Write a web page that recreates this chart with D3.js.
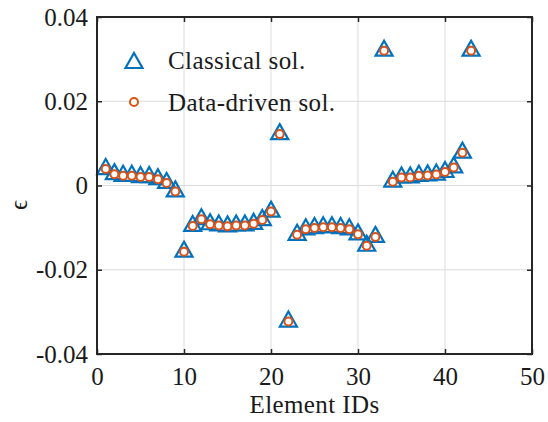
<!DOCTYPE html>
<html><head><meta charset="utf-8">
<script src="https://cdn.jsdelivr.net/npm/d3@7"></script>
</head><body style="margin:0;background:#fff">
<svg id="c" width="548" height="422"></svg>
<script>
const elementIds = d3.range(1, 44);
const classical = [0.0039,0.0027,0.0023,0.0023,0.0020,0.0020,0.0015,0.0006,-0.0014,-0.0157,
  -0.0096,-0.0080,-0.0092,-0.0095,-0.0097,-0.0095,-0.0095,-0.0091,-0.0082,-0.0062,
  0.0122,-0.0323,-0.0117,-0.0104,-0.0101,-0.0099,-0.0099,-0.0101,-0.0104,-0.0116,
  -0.0143,-0.0122,0.0320,0.0009,0.0019,0.0019,0.0023,0.0024,0.0026,0.0032,
  0.0043,0.0078,0.0320];
const dataDriven = [0.0039,0.0027,0.0023,0.0023,0.0020,0.0020,0.0015,0.0006,-0.0014,-0.0157,
  -0.0096,-0.0080,-0.0092,-0.0095,-0.0097,-0.0095,-0.0095,-0.0091,-0.0082,-0.0062,
  0.0122,-0.0323,-0.0117,-0.0104,-0.0101,-0.0099,-0.0099,-0.0101,-0.0104,-0.0116,
  -0.0143,-0.0122,0.0320,0.0009,0.0019,0.0019,0.0023,0.0024,0.0026,0.0032,
  0.0043,0.0078,0.0320];
const xTicks = [0,10,20,30,40,50];
const yTicks = [0.04,0.02,0,-0.02,-0.04];
const yTickLabels = ["0.04","0.02","0","-0.02","-0.04"];
const seriesNames = ["Classical sol.","Data-driven sol."];

const L=97, R=532, T=17, B=354;
const FONT = "Liberation Serif";
const fs = 25;
const svg = d3.select("#c");
const x = d3.scaleLinear().domain([0,50]).range([L,R]);
const y = d3.scaleLinear().domain([-0.04,0.04]).range([B,T]);
const blue="#0072BD", orange="#D95319";

function txt(sel){ return sel.attr("font-family",FONT).style("font-family",FONT)
  .attr("font-size",fs).style("font-size",fs+"px").attr("fill","#1a1a1a"); }

// grid
svg.append("g").selectAll("line").data(xTicks.slice(1,-1)).join("line")
  .attr("x1",d=>x(d)).attr("x2",d=>x(d)).attr("y1",T).attr("y2",B)
  .attr("stroke","#dcdcdc").attr("stroke-width",1);
svg.append("g").selectAll("line").data(yTicks.slice(1,-1)).join("line")
  .attr("y1",d=>y(d)).attr("y2",d=>y(d)).attr("x1",L).attr("x2",R)
  .attr("stroke","#dcdcdc").attr("stroke-width",1);

// axes (ticks inward)
const xa = svg.append("g").attr("transform",`translate(0,${B})`)
  .call(d3.axisBottom(x).tickValues(xTicks).tickSizeInner(-5).tickSizeOuter(0).tickPadding(13).tickFormat(d3.format("d")));
const xat = svg.append("g").attr("transform",`translate(0,${T})`)
  .call(d3.axisTop(x).tickValues(xTicks).tickSizeInner(-5).tickSizeOuter(0).tickFormat(""));
const ya = svg.append("g").attr("transform",`translate(${L},0)`)
  .call(d3.axisLeft(y).tickValues(yTicks).tickSizeInner(-5).tickSizeOuter(0).tickPadding(9).tickFormat((d,i)=>yTickLabels[i]));
const yar = svg.append("g").attr("transform",`translate(${R},0)`)
  .call(d3.axisRight(y).tickValues(yTicks).tickSizeInner(-5).tickSizeOuter(0).tickFormat(""));
[xa,xat,ya,yar].forEach(g=>{
  g.attr("font-family",FONT).attr("font-size",fs);
  g.select(".domain").remove();
  g.selectAll(".tick line").attr("stroke","#262626").attr("stroke-width",1.5);
  txt(g.selectAll(".tick text"));
});
xa.selectAll(".tick text").attr("dy","0.71em");

// markers
const triPath = "M0,-10L8.5,5L-8.5,5Z";
svg.append("g").selectAll("path").data(elementIds).join("path")
  .attr("d",triPath).attr("transform",(d,i)=>`translate(${x(d)},${y(classical[i])})`)
  .attr("fill","none").attr("stroke",blue).attr("stroke-width",2.2);
svg.append("g").selectAll("circle").data(elementIds).join("circle")
  .attr("cx",d=>x(d)).attr("cy",(d,i)=>y(dataDriven[i])).attr("r",4)
  .attr("fill","#fff").attr("stroke",orange).attr("stroke-width",2);

// frame
svg.append("rect").attr("x",L).attr("y",T).attr("width",R-L).attr("height",B-T)
  .attr("fill","none").attr("stroke","#262626").attr("stroke-width",2);

// legend
const lg = svg.append("g");
lg.append("path").attr("d",triPath).attr("transform","translate(134,63)")
  .attr("fill","none").attr("stroke",blue).attr("stroke-width",2.2);
lg.append("circle").attr("cx",134).attr("cy",102).attr("r",4)
  .attr("fill","#fff").attr("stroke",orange).attr("stroke-width",2);
txt(lg.selectAll("text").data(seriesNames).join("text")
  .attr("x",168).attr("y",(d,i)=>69+i*42)).style("letter-spacing","0.4px").text(d=>d);

// axis labels
txt(svg.append("text").attr("x",(L+R)/2).attr("y",413).attr("text-anchor","middle"))
  .style("letter-spacing","0.4px").text("Element IDs");
txt(svg.append("text").attr("transform",`translate(27,205) rotate(-90)`)
  .attr("text-anchor","middle")).text("ϵ");
</script>
</body></html>
